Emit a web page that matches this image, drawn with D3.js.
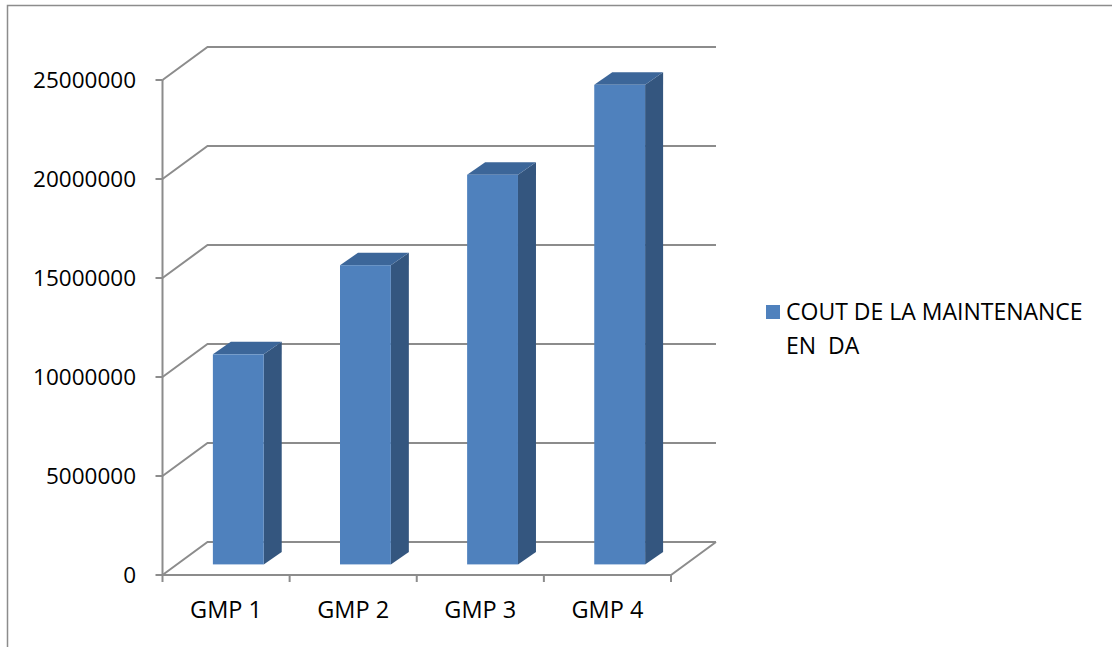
<!DOCTYPE html>
<html>
<head>
<meta charset="utf-8">
<script src="https://cdn.jsdelivr.net/npm/d3@7"></script>
<style>
  html, body { margin: 0; padding: 0; background: #fff; }
  svg { display: block; }
</style>
</head>
<body>
<svg id="chart" width="1112" height="647"></svg>
<script>
// Maintenance cost per GMP unit (DA)
const categories = ["GMP 1", "GMP 2", "GMP 3", "GMP 4"];
const costValues = [10610000, 15110000, 19680000, 24220000];
const yTickValues = [0, 5000000, 10000000, 15000000, 20000000, 25000000];
const seriesName = ["COUT DE LA MAINTENANCE", "EN  DA"];

const svg = d3.select("#chart");
const FONT = "'Open Sans', sans-serif";
const gridColor = "#8c8c8c";

// chart frame
svg.append("rect")
  .attr("x", 7.5).attr("y", 5.5)
  .attr("width", 1200).attr("height", 700)
  .attr("fill", "none").attr("stroke", "#8c8c8c").attr("stroke-width", 1.5);

// front plane scales, with an oblique depth vector for the 3D look
const y = d3.scaleLinear().domain([0, 25000000]).range([575, 80]);
const x = d3.scaleBand().domain(categories).range([162.5, 671]).padding(0);
const depth = { dx: 45, dy: -33 };
const xLeft = 162.5, xRight = 671;

// back wall gridlines with their diagonal side-wall segment
const grid = svg.append("g");
yTickValues.forEach(v => {
  const yf = y(v);
  const pts = [[xLeft, yf], [xLeft + depth.dx, yf + depth.dy], [xRight + depth.dx, yf + depth.dy]];
  grid.append("path")
    .attr("d", d3.line()(pts))
    .attr("fill", "none").attr("stroke", gridColor).attr("stroke-width", 2);
});

// floor front edge and right edge
grid.append("path")
  .attr("d", d3.line()([[xLeft, y(0)], [xRight, y(0)], [xRight + depth.dx, y(0) + depth.dy]]))
  .attr("fill", "none").attr("stroke", gridColor).attr("stroke-width", 2);

// vertical value axis
const yAxis = svg.append("g");
yAxis.append("line")
  .attr("x1", xLeft).attr("x2", xLeft)
  .attr("y1", y(25000000)).attr("y2", y(0))
  .attr("stroke", gridColor).attr("stroke-width", 2);
yTickValues.forEach(v => {
  yAxis.append("line")
    .attr("x1", xLeft - 7).attr("x2", xLeft)
    .attr("y1", y(v)).attr("y2", y(v))
    .attr("stroke", gridColor).attr("stroke-width", 2);
  yAxis.append("text")
    .attr("x", 136).attr("y", y(v))
    .attr("dy", "0.36em")
    .attr("text-anchor", "end")
    .attr("font-family", FONT).attr("font-size", 22.5)
    .attr("fill", "#000")
    .text(d3.format("d")(v));
});

// category axis ticks and labels
const xAxis = svg.append("g");
const tickXs = categories.map(c => x(c)).concat([xRight]);
tickXs.forEach(tx => {
  xAxis.append("line")
    .attr("x1", tx).attr("x2", tx)
    .attr("y1", y(0)).attr("y2", y(0) + 7)
    .attr("stroke", gridColor).attr("stroke-width", 2);
});
categories.forEach(c => {
  xAxis.append("text")
    .attr("x", x(c) + x.bandwidth() / 2).attr("y", 618)
    .attr("text-anchor", "middle")
    .attr("font-family", FONT).attr("font-size", 23.5)
    .attr("fill", "#000")
    .text(c);
});

// 3D columns
const frontShift = { dx: 14.4, dy: -10.6 };
const barDepth = { dx: 18, dy: -12.5 };
const barW = x.bandwidth() * 0.40;
const bars = svg.append("g");
categories.forEach((c, i) => {
  const x0 = x(c) + x.bandwidth() * 0.283 + frontShift.dx;
  const x1 = x0 + barW;
  const yb = y(0) + frontShift.dy;
  const yt = y(costValues[i]) + frontShift.dy;
  // side face
  bars.append("path")
    .attr("d", d3.line()([[x1, yb], [x1 + barDepth.dx, yb + barDepth.dy], [x1 + barDepth.dx, yt + barDepth.dy], [x1, yt]]) + "Z")
    .attr("fill", "#34567f");
  // top face
  bars.append("path")
    .attr("d", d3.line()([[x0, yt], [x0 + barDepth.dx, yt + barDepth.dy], [x1 + barDepth.dx, yt + barDepth.dy], [x1, yt]]) + "Z")
    .attr("fill", "#3c6699");
  // front face
  bars.append("rect")
    .attr("x", x0).attr("y", yt)
    .attr("width", barW).attr("height", yb - yt)
    .attr("fill", "#4f81bd");
});

// legend
const legend = svg.append("g");
legend.append("rect")
  .attr("x", 766).attr("y", 305)
  .attr("width", 14).attr("height", 14)
  .attr("fill", "#4f81bd");
seriesName.forEach((line, i) => {
  legend.append("text")
    .attr("x", 786).attr("y", 320 + i * 34)
    .attr("font-family", FONT).attr("font-size", 23)
    .attr("fill", "#000")
    .style("white-space", "pre")
    .text(line);
});
</script>
</body>
</html>
